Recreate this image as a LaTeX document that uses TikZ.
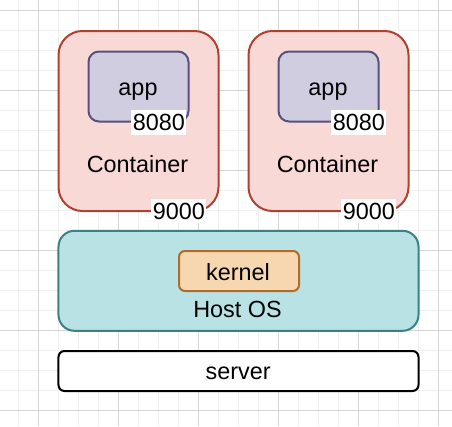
\documentclass[tikz,border=0pt]{standalone}
\usepackage{fontspec}
\setmainfont{Liberation Sans}
\definecolor{ctfill}{HTML}{F8D9D5}
\definecolor{ctstroke}{HTML}{AE4132}
\definecolor{appfill}{HTML}{D0CDE1}
\definecolor{appstroke}{HTML}{56517E}
\definecolor{hostfill}{HTML}{B9E2E4}
\definecolor{hoststroke}{HTML}{3A8087}
\definecolor{kfill}{HTML}{F7D7AF}
\definecolor{kstroke}{HTML}{B36A2A}
\definecolor{gridminor}{HTML}{EFEFEF}
\definecolor{gridmajor}{HTML}{D6D6D6}
\begin{document}
\begin{tikzpicture}[x=1bp,y=-1bp,
  shapebox/.style={draw, line width=2bp, inner sep=0pt},
  txt/.style={font=\fontsize{23.4bp}{28bp}\selectfont, inner sep=0pt, anchor=base},
  portlabel/.style={fill=white, font=\fontsize{23.4bp}{28bp}\selectfont, inner xsep=1.5bp, inner ysep=0pt, minimum height=25bp},
  container/.style={shapebox, draw=ctstroke, fill=ctfill, rounded corners=24bp, minimum width=160bp, minimum height=180bp},
  appbox/.style={shapebox, draw=appstroke, fill=appfill, rounded corners=10.5bp, minimum width=100bp, minimum height=70bp}
]
\useasboundingbox (0,0) rectangle (452,426);
\fill[white] (0,0) rectangle (452,426);
% grid
\foreach \x in {18,38,...,438} \draw[gridminor, line width=1bp] (\x,0) -- (\x,426);
\foreach \y in {10,30,...,420} \draw[gridminor, line width=1bp] (0,\y) -- (452,\y);
\foreach \x in {38,118,...,438} \draw[gridmajor, line width=1bp] (\x,0) -- (\x,426);
\foreach \y in {10,90,...,420} \draw[gridmajor, line width=1bp] (0,\y) -- (452,\y);

% containers
\node[container] (c1) at (138.5,121) {};
\node[container] (c2) at (328.5,121) {};
\node[appbox] (a1) at (138.5,86.5) {};
\node[appbox] (a2) at (328.5,86.5) {};
\node[txt] (a1t) at (138,95.5) {app};
\node[txt] (a2t) at (328,95.5) {app};
\node[portlabel] (p1) at (158.8,122.5) {8080};
\node[portlabel] (p2) at (358.8,122.5) {8080};
\node[txt] (c1t) at (137.5,172) {Container};
\node[txt] (c2t) at (327.5,172) {Container};
\node[portlabel, minimum height=24bp] (q1) at (178.8,211) {9000};
\node[portlabel, minimum height=24bp] (q2) at (368.8,211) {9000};

% host
\node[shapebox, draw=hoststroke, fill=hostfill, rounded corners=16bp, minimum width=360bp, minimum height=100bp] (host) at (238.5,280.8) {};
\node[shapebox, draw=kstroke, fill=kfill, rounded corners=6bp, minimum width=120bp, minimum height=40bp] (kern) at (239,271) {};
\node[txt] (kt) at (238,280) {kernel};
\node[txt] (ht) at (237.5,317.7) {Host OS};

% server
\node[shapebox, draw=black, fill=white, rounded corners=6bp, minimum width=360bp, minimum height=40bp] (srv) at (238.5,371) {};
\node[txt] (st) at (238.2,379.3) {server};
\end{tikzpicture}
\end{document}
